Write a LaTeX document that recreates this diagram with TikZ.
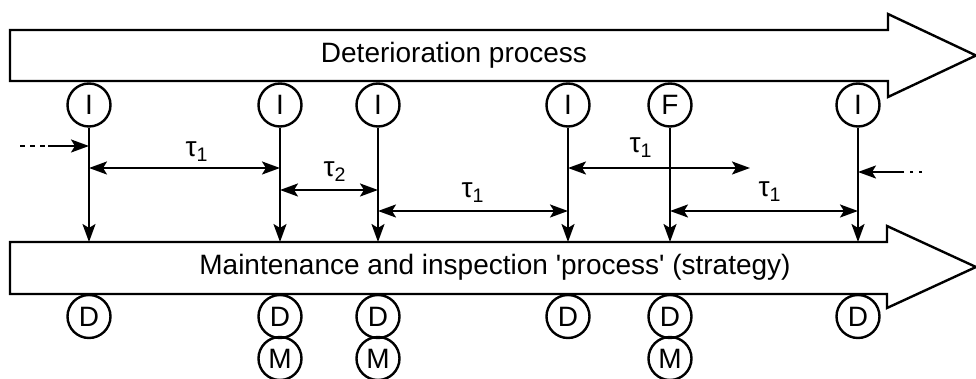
\documentclass[tikz,border=0pt]{standalone}
\usepackage{fontspec}
\setmainfont{Liberation Sans}[Ligatures=TeXOff]
\usetikzlibrary{arrows.meta}

\begin{document}
\begin{tikzpicture}[x=0.5pt,y=-0.5pt,line width=1.2pt,
                    >={Stealth[length=9pt,width=6.5pt,inset=2pt]},
                    every node/.style={font=\fontsize{14}{16}\selectfont},
                    evt/.style={draw, circle, minimum size=21.5pt, inner sep=0pt},
                    band/.style={draw, fill=white}]
\useasboundingbox (0,0) rectangle (976,379);
% the two process bands
\draw[band] (10,30) -- (888,30) -- (888,14) -- (976,55.5) -- (888,97) -- (888,81) -- (10,81) -- cycle;
\draw[band] (10,242) -- (887,242) -- (887,226) -- (976,267) -- (887,308) -- (887,294) -- (10,294) -- cycle;
\node[anchor=base] (det) at (454,63) {Deterioration process};
\node[anchor=base] (strat) at (495,275) {Maintenance and inspection 'process' (strategy)};
\coordinate (mtop) at (0,242);
% events on the deterioration process
\node[evt] (e1) at (89,105) {I};
\node[evt] (e2) at (280,105) {I};
\node[evt] (e3) at (378,105) {I};
\node[evt] (e4) at (568,105) {I};
\node[evt] (e5) at (670,105) {F};
\node[evt] (e6) at (858,105) {I};
% actions of the strategy
\node[evt] (d1) at (89,316.5) {D};
\node[evt] (d2) at (280,316.5) {D};
\node[evt] (d3) at (378,316.5) {D};
\node[evt] (d4) at (568,316.5) {D};
\node[evt] (d5) at (670,316.5) {D};
\node[evt] (d6) at (858,316.5) {D};
\node[evt] (m2) at (280,358.5) {M};
\node[evt] (m3) at (378,358.5) {M};
\node[evt] (m5) at (670,358.5) {M};
% stems
\draw[->] (e1) -- (e1 |- mtop);
\draw[->] (e2) -- (e2 |- mtop);
\draw[->] (e3) -- (e3 |- mtop);
\draw[->] (e4) -- (e4 |- mtop);
\draw[->] (e5) -- (e5 |- mtop);
\draw[->] (e6) -- (e6 |- mtop);
% intervals
\draw[<->] (e1 |- 0,168) -- (e2 |- 0,168);
\draw[<->] (e2 |- 0,190) -- (e3 |- 0,190);
\draw[<->] (e3 |- 0,211) -- (e4 |- 0,211);
\coordinate (fend) at (750,168);
\draw[<->] (e4 |- fend) -- (fend);
\draw[<->] (e5 |- 0,211) -- (e6 |- 0,211);
\node[anchor=base] (t1a) at (197,157) {τ\textsubscript{1}};
\node[anchor=base] (t2) at (335,177) {τ\textsubscript{2}};
\node[anchor=base] (t1b) at (473,198) {τ\textsubscript{1}};
\node[anchor=base] (t1c) at (641,153) {τ\textsubscript{1}};
\node[anchor=base] (t1d) at (770,197) {τ\textsubscript{1}};
% incoming from outside
\coordinate (lin) at (20,146);
\coordinate (lsol) at (48,146);
\draw[dash pattern=on 2.5pt off 2.5pt] (lin) -- (lsol);
\draw[->] (lsol) -- (e1 |- lsol);
\coordinate (rin) at (922,172);
\coordinate (rsol) at (903,172);
\draw[dash pattern=on 1.75pt off 2.75pt] (rin) -- (rsol);
\draw[->] (rsol) -- (e6 |- rsol);
\end{tikzpicture}
\end{document}
